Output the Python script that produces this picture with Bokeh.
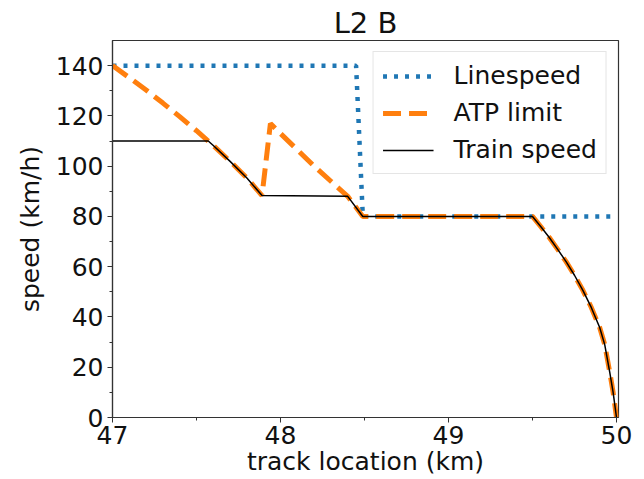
from bokeh.plotting import figure
from bokeh.models import Range1d, FixedTicker
from bokeh.embed import file_html
from bokeh.resources import INLINE

# --- data ---
line_x = [47.0, 48.45, 48.49, 50.0]
line_v = [140, 140, 80, 80]

atp_x = [47.0, 47.1, 47.2, 47.3, 47.4, 47.5, 47.57, 47.6, 47.7, 47.8, 47.89,
         47.94, 48.0, 48.1, 48.2, 48.3, 48.40, 48.49,
         49.5, 49.55, 49.6, 49.65, 49.7, 49.75, 49.8, 49.85, 49.9, 49.93, 49.96, 49.98, 50.0]
atp_v = [140, 135.2, 130.3, 125.1, 119.7, 114.1, 110, 108.2, 101.9, 95.3, 88.3,
         117, 113, 106.5, 100, 94, 88, 80,
         80, 75.9, 71.6, 66.9, 62.0, 56.6, 50.6, 43.8, 35.8, 29, 18, 10, 0]

train_x = [47.0, 47.57, 47.6, 47.7, 47.8, 47.89, 48.40, 48.49,
           49.5, 49.55, 49.6, 49.65, 49.7, 49.75, 49.8, 49.85, 49.9, 49.93, 49.96, 49.98, 50.0]
train_v = [110, 110, 108.2, 101.9, 95.3, 88.3, 88, 80,
           80, 75.9, 71.6, 66.9, 62.0, 56.6, 50.6, 43.8, 35.8, 29, 18, 10, 0]

x_ticks = [47, 48, 49, 50]
x_minor = [47.5, 48.5, 49.5]
y_ticks = [0, 20, 40, 60, 80, 100, 120, 140]
y_minor = [10, 30, 50, 70, 90, 110, 130]

FONT = "DejaVu Sans"

p = figure(frame_width=506, frame_height=377,
           min_border_left=112, min_border_right=26,
           min_border_top=40, min_border_bottom=62,
           x_range=Range1d(47, 50.012), y_range=Range1d(0, 150),
           output_backend="svg", toolbar_location=None,
           title="L2 B")

p.title.text_font = FONT
p.title.text_font_size = "29px"
p.title.text_font_style = "normal"
p.title.align = "center"
p.title.standoff = 1
p.title.text_color = "#111111"

p.line(line_x, line_v, line_color="#1f77b4", line_width=4.5, line_dash="4 7",
       legend_label="Linespeed")
p.line(atp_x, atp_v, line_color="#ff7f0e", line_width=5, line_dash="18 8",
       legend_label="ATP limit")
p.line(train_x, train_v, line_color="black", line_width=1.5,
       legend_label="Train speed")

p.xgrid.visible = False
p.ygrid.visible = False
p.outline_line_color = "#333333"
p.outline_line_width = 1.2

p.xaxis.ticker = FixedTicker(ticks=x_ticks, minor_ticks=x_minor)
p.yaxis.ticker = FixedTicker(ticks=y_ticks, minor_ticks=y_minor)
p.xaxis.axis_label = "track location (km)"
p.yaxis.axis_label = "speed (km/h)"

for ax in (p.xaxis[0], p.yaxis[0]):
    ax.axis_label_text_font = FONT
    ax.axis_label_text_font_size = "25px"
    ax.axis_label_text_font_style = "normal"
    ax.axis_label_text_color = "#111111"
    ax.major_label_text_font = FONT
    ax.major_label_text_font_size = "25px"
    ax.major_label_text_color = "#111111"
    ax.axis_line_color = "#333333"
    ax.axis_line_width = 1.2
    ax.major_tick_in = 0
    ax.major_tick_out = 5
    ax.minor_tick_in = 0
    ax.minor_tick_out = 3
    ax.major_tick_line_color = "#333333"
    ax.minor_tick_line_color = "#333333"

p.xaxis.major_label_standoff = 3
p.xaxis.axis_label_standoff = 0
p.yaxis.major_label_standoff = 4
p.yaxis.axis_label_standoff = 8

lg = p.legend[0]
lg.location = "top_right"
lg.margin = 11
lg.padding = 9
lg.spacing = 8
lg.glyph_width = 51
lg.glyph_height = 22
lg.label_standoff = 20
lg.label_text_font = FONT
lg.label_text_font_size = "25px"
lg.label_text_color = "#111111"
lg.border_line_color = "#cccccc"
lg.background_fill_alpha = 0.8

open("out.html", "w").write(file_html(p, INLINE))
